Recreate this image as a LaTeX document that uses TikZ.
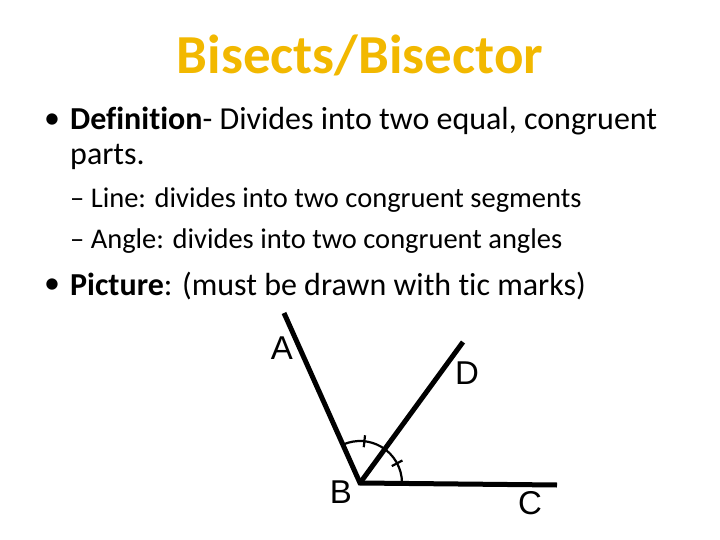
\documentclass[tikz,border=0pt]{standalone}
\usepackage{fontspec}
\usetikzlibrary{calc}
\setmainfont{Carlito}[Ligatures={NoCommon}]
\newfontfamily\arialf{Liberation Sans}
\definecolor{gold}{HTML}{F2B800}
\begin{document}
\begin{tikzpicture}[x=1pt,y=-1pt,
  ray/.style={line width=5pt},
  lbl/.style={font=\arialf\fontsize{33}{36}\selectfont},
  body/.style={anchor=west,inner sep=0pt,font=\fontsize{32}{36}\selectfont},
  sub/.style={anchor=west,inner sep=0pt,font=\fontsize{28.5}{32}\selectfont}]
\useasboundingbox (0,0) rectangle (720,540);
\node[font=\bfseries\fontsize{55}{60}\selectfont,text=gold] (title) at (360,55) {Bisects/Bisector};
\node[body] (d1) at (44,121) {\textbullet};
\node[body] (b1) at (70,121) {\textbf{Definition}- Divides into two equal, congruent};
\node[body] (b1b) at (70,157) {parts.};
\node[sub] (s1) at (70,200) {-- Line: divides into two congruent segments};
\node[sub] (s2) at (70,241) {-- Angle: divides into two congruent angles};
\node[body] (d2) at (44,286) {\textbullet};
\node[body] (b2) at (70,286) {\textbf{Picture}: (must be drawn with tic marks)};
\coordinate (B) at (360,483);
\coordinate (A) at (284,313);
\coordinate (D) at (463,342);
\coordinate (C) at (557,485);
\draw[ray,line join=miter] (A) -- (B) -- (C);
\draw[ray] (B) -- (D);
\draw[line width=2.2pt] ($(B)+(42,0)$) arc[start angle=0,end angle=-113,radius=42];
\draw[line width=2.2pt] ($(B)+(-84:36)$) -- ($(B)+(-84:48)$);
\draw[line width=2.2pt] ($(B)+(-28:36)$) -- ($(B)+(-28:48)$);
\node[lbl] (la) at (282,348) {A};
\node[lbl] (ld) at (467,373) {D};
\node[lbl] (lb) at (341,492) {B};
\node[lbl] (lc) at (530,503) {C};
\end{tikzpicture}
\end{document}
